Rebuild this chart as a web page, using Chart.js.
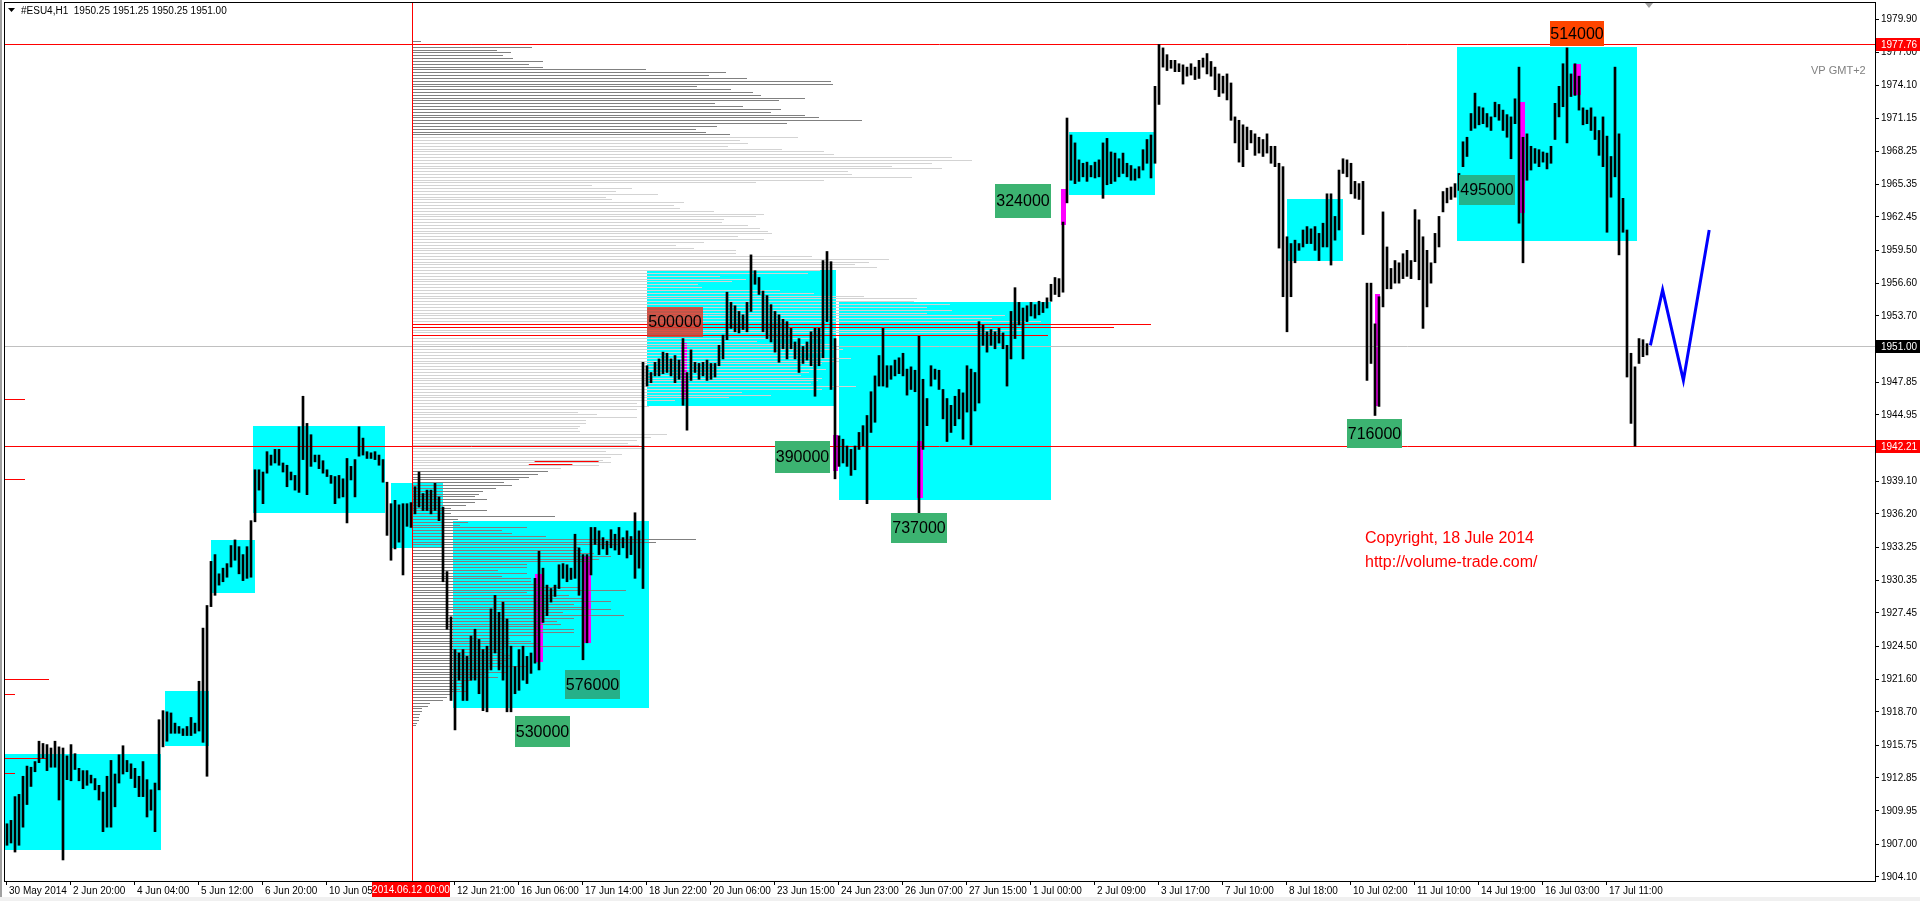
<!DOCTYPE html>
<html>
<head>
<meta charset="utf-8">
<script src="https://cdn.jsdelivr.net/npm/chart.js@4.4.1/dist/chart.umd.min.js"></script>
<style>
  html, body { margin: 0; padding: 0; background: #fff; }
  canvas { display: block; }
</style>
</head>
<body>
<canvas id="chart" width="1920" height="901"></canvas>
<script>
// #ESU4 H1, bars taken two hours at a time; x = hour count from 30 May 2014
const barHighs = [
  1908.8,1909.1,1911.2,1911.4,1913.0,1913.9,1913.8,1914.3,1916.1,1915.9,1915.8,1915.5,1916.1,1915.6,1915.5,1914.8,
  1915.8,1915.0,1913.7,1913.5,1913.5,1913.1,1912.8,1912.2,1911.6,1913.0,1914.4,1913.2,1914.9,1915.7,1914.4,1914.1,
  1913.7,1913.0,1914.3,1912.7,1911.8,1912.4,1918.0,1918.8,1918.7,1918.6,1917.7,1917.4,1917.2,1917.4,1918.2,1917.7,
  1921.4,1926.1,1928.1,1932.0,1932.6,1930.9,1931.4,1931.8,1933.4,1933.9,1933.3,1932.6,1933.3,1935.6,1940.1,1940.1,
  1939.9,1941.7,1941.4,1941.9,1941.9,1940.7,1940.5,1939.9,1939.6,1943.9,1946.6,1944.2,1943.2,1941.4,1941.4,1940.9,
  1940.1,1939.6,1939.5,1939.6,1939.3,1941.1,1940.4,1941.0,1943.9,1942.9,1941.7,1941.6,1941.7,1941.4,1941.0,1939.0,
  1937.1,1937.4,1937.0,1937.1,1937.1,1937.2,1938.6,1939.9,1938.0,1938.3,1938.3,1938.9,1937.7,1936.8,1931.1,1927.1,
  1924.2,1923.9,1924.2,1923.6,1925.4,1926.0,1925.1,1924.2,1924.5,1927.8,1929.0,1927.5,1928.4,1926.9,1924.5,1922.7,
  1924.2,1924.5,1923.6,1923.9,1930.5,1932.9,1931.4,1929.9,1929.6,1929.9,1931.7,1931.8,1931.7,1931.4,1934.4,1933.2,
  1932.6,1932.6,1935.0,1935.0,1934.7,1934.1,1933.8,1934.8,1934.4,1935.0,1934.1,1934.7,1934.2,1936.3,1934.7,1949.6,
  1949.3,1948.7,1949.6,1949.9,1950.5,1950.4,1949.9,1950.2,1949.8,1951.7,1948.7,1950.7,1949.6,1949.5,1949.6,1949.8,
  1949.5,1949.5,1951.1,1952.0,1955.8,1954.9,1954.6,1954.1,1953.8,1954.9,1959.1,1957.7,1957.1,1955.9,1955.5,1954.7,
  1954.1,1953.8,1953.4,1953.2,1952.6,1951.4,1951.7,1951.0,1951.4,1952.3,1952.6,1952.6,1958.6,1959.4,1958.5,1951.7,
  1943.1,1942.8,1942.2,1941.9,1942.2,1943.4,1944.0,1944.9,1947.0,1948.4,1950.2,1952.6,1949.3,1949.3,1949.8,1950.0,
  1950.4,1949.0,1949.2,1948.9,1951.9,1948.1,1946.4,1949.3,1949.0,1948.9,1947.2,1946.4,1945.8,1946.6,1947.2,1946.9,
  1949.3,1949.0,1948.7,1953.2,1952.9,1952.3,1952.5,1952.3,1952.6,1952.2,1951.1,1954.1,1956.2,1954.9,1954.4,1954.6,
  1954.9,1954.7,1955.0,1954.9,1955.3,1956.5,1957.1,1957.0,1962.0,1971.2,1969.7,1969.0,1967.5,1967.2,1967.3,1967.0,
  1967.3,1967.5,1969.0,1969.4,1968.2,1968.1,1967.6,1968.1,1967.2,1967.0,1966.7,1966.9,1968.4,1969.3,1969.7,1974.0,
  1977.7,1977.4,1976.8,1976.3,1976.3,1976.0,1975.9,1975.7,1976.0,1975.7,1976.3,1976.5,1976.9,1976.2,1975.7,1975.1,
  1974.9,1975.1,1974.3,1971.3,1971.0,1970.6,1970.4,1970.1,1969.8,1969.5,1969.3,1969.8,1968.7,1968.7,1967.2,1966.9,
  1960.7,1960.1,1960.4,1960.1,1961.3,1961.6,1961.4,1961.6,1961.0,1961.9,1964.5,1964.5,1962.5,1966.6,1967.6,1967.5,
  1967.2,1965.6,1965.4,1965.6,1956.6,1956.6,1953.0,1955.4,1962.9,1959.8,1957.9,1958.6,1958.4,1959.2,1959.5,1958.6,
  1963.1,1962.2,1960.7,1959.5,1958.4,1961.0,1962.5,1964.7,1965.0,1965.1,1965.4,1966.3,1969.1,1969.5,1971.6,1973.4,
  1972.2,1972.1,1971.6,1971.3,1972.6,1972.4,1971.9,1971.5,1971.3,1972.9,1975.7,1969.5,1969.8,1968.7,1968.5,1968.4,
  1968.2,1968.1,1968.7,1972.5,1974.0,1976.0,1977.4,1975.1,1976.0,1974.9,1972.1,1971.9,1972.1,1971.3,1970.1,1971.3,
  1969.6,1967.8,1975.7,1969.8,1964.1,1961.3,1950.4,1949.2,1951.7,1951.6,1951.25
];
const barLows = [
  1906.9,1907.1,1906.3,1906.9,1908.5,1910.5,1912.1,1913.4,1914.2,1914.6,1913.5,1913.8,1913.8,1910.9,1905.6,1912.7,
  1912.6,1913.6,1912.6,1911.9,1912.2,1912.4,1911.8,1910.9,1908.1,1908.5,1908.5,1910.3,1912.4,1913.2,1913.4,1912.8,
  1912.0,1911.2,1911.2,1909.4,1910.0,1908.1,1911.8,1915.6,1916.1,1916.8,1916.8,1916.8,1916.6,1916.6,1916.6,1916.8,
  1917.0,1916.0,1913.0,1928.0,1929.0,1929.9,1930.2,1930.6,1931.5,1932.1,1930.9,1930.3,1930.5,1930.6,1935.5,1938.3,
  1937.1,1939.8,1940.5,1940.7,1940.5,1939.9,1938.6,1939.2,1938.3,1938.1,1941.0,1937.9,1940.4,1940.8,1940.2,1939.8,
  1939.5,1938.9,1937.1,1937.6,1937.7,1935.4,1939.2,1937.7,1941.3,1941.4,1941.1,1941.1,1941.0,1940.5,1939.0,1934.3,
  1932.1,1933.1,1933.7,1930.8,1935.1,1935.0,1936.2,1936.8,1936.5,1936.5,1936.2,1936.5,1935.6,1930.2,1926.0,1919.7,
  1917.1,1921.5,1919.7,1919.7,1921.5,1921.5,1920.3,1918.8,1918.7,1922.4,1923.9,1922.4,1921.5,1918.7,1918.7,1920.3,
  1920.6,1921.5,1921.2,1922.1,1923.0,1922.4,1926.6,1927.2,1928.4,1928.9,1929.6,1930.5,1930.2,1930.4,1930.5,1929.0,
  1923.3,1924.8,1930.8,1933.5,1932.6,1933.1,1932.6,1933.2,1933.0,1932.6,1933.2,1932.3,1932.6,1930.5,1931.4,1929.6,
  1947.5,1947.8,1948.4,1948.4,1948.6,1948.7,1948.4,1947.8,1948.1,1945.8,1943.6,1948.0,1948.7,1948.1,1948.4,1948.0,
  1948.1,1948.3,1949.3,1949.9,1951.6,1952.6,1952.3,1952.2,1952.5,1952.3,1954.1,1956.5,1955.6,1952.3,1951.7,1951.4,
  1950.5,1949.6,1950.8,1949.9,1950.8,1949.9,1948.7,1949.5,1949.8,1949.3,1946.6,1949.3,1950.0,1953.2,1947.2,1939.3,
  1940.4,1940.7,1940.4,1939.6,1940.1,1941.9,1942.2,1937.1,1943.4,1944.3,1947.5,1947.5,1947.4,1948.1,1948.4,1948.6,
  1948.4,1946.7,1947.2,1947.0,1936.2,1941.9,1944.0,1947.5,1948.1,1947.2,1944.6,1942.6,1943.4,1944.0,1944.6,1942.8,
  1945.2,1942.3,1945.3,1946.0,1951.1,1950.5,1951.1,1950.8,1951.3,1950.8,1947.5,1949.9,1951.7,1952.9,1949.9,1953.2,
  1953.7,1953.5,1953.8,1954.0,1954.4,1955.0,1955.6,1955.4,1955.8,1963.7,1965.7,1965.4,1965.6,1966.0,1965.6,1966.0,
  1965.9,1966.0,1964.1,1965.3,1965.4,1965.6,1966.0,1966.3,1966.0,1965.7,1965.7,1965.9,1966.6,1967.2,1965.9,1967.2,
  1972.4,1975.7,1975.4,1975.6,1975.3,1975.3,1974.2,1974.9,1975.0,1974.6,1974.7,1975.7,1975.1,1974.9,1973.7,1973.1,
  1973.4,1972.8,1971.0,1969.0,1967.3,1966.9,1968.4,1969.0,1967.9,1968.1,1967.8,1968.1,1967.2,1966.9,1959.7,1955.4,
  1952.3,1955.4,1958.4,1959.5,1959.8,1960.1,1960.1,1959.5,1958.6,1959.8,1959.8,1958.2,1960.4,1961.3,1966.3,1966.0,
  1964.5,1964.1,1964.0,1960.9,1948.0,1949.5,1944.9,1945.7,1954.5,1956.1,1956.1,1956.6,1956.6,1957.0,1957.2,1957.0,
  1958.5,1956.9,1952.6,1954.5,1956.6,1958.4,1959.8,1962.9,1963.7,1964.0,1964.2,1964.8,1966.9,1967.8,1970.1,1970.3,
  1970.6,1970.7,1970.4,1970.1,1971.3,1971.0,1970.1,1969.5,1967.6,1970.7,1961.9,1958.4,1965.7,1966.6,1967.2,1966.9,
  1967.3,1966.7,1967.2,1969.3,1971.3,1972.2,1969.0,1973.1,1973.2,1971.9,1970.6,1970.7,1970.1,1969.3,1967.9,1966.9,
  1961.1,1964.2,1966.0,1959.1,1961.1,1948.3,1944.2,1942.2,1949.5,1950.1,1950.25
];
const barHours = barHighs.map((_, i) => 2 * i + 0.5);

// tick labels
const xTickHours = [0,32,64,96,128,160,192,224,256,288,320,352,384,416,448,480,512,544,576,608,640,672,704,736,768,800];
const xTickLabels = ['30 May 2014','2 Jun 20:00','4 Jun 04:00','5 Jun 12:00','6 Jun 20:00','10 Jun 05:00','11 Jun 13:00',
  '12 Jun 21:00','16 Jun 06:00','17 Jun 14:00','18 Jun 22:00','20 Jun 06:00','23 Jun 15:00','24 Jun 23:00','26 Jun 07:00',
  '27 Jun 15:00','1 Jul 00:00','2 Jul 09:00','3 Jul 17:00','7 Jul 10:00','8 Jul 18:00','10 Jul 02:00','11 Jul 10:00',
  '14 Jul 19:00','16 Jul 03:00','17 Jul 11:00'];
const yTickValues = [1979.90,1977.00,1974.10,1971.15,1968.25,1965.35,1962.45,1959.50,1956.60,1953.70,1950.80,1947.85,
  1944.95,1942.00,1939.10,1936.20,1933.25,1930.35,1927.45,1924.50,1921.60,1918.70,1915.75,1912.85,1909.95,1907.00,1904.10];

// cyan zones
const boxFrom = [-0.7, 79.5, 102.5, 123.6, 192.5, 223.5, 320.5, 416.4, 531.6, 640.4, 725.5];
const boxTo   = [77.5, 101.6, 124.5, 189.5, 218.5, 321.5, 415.2, 522.5, 574.3, 668.4, 815.5];
const boxHigh = [1915.0, 1920.5, 1933.9, 1944.0, 1938.9, 1935.6, 1957.8, 1954.9, 1969.96, 1964.0, 1977.45];
const boxLow  = [1906.5, 1915.7, 1929.2, 1936.3, 1933.2, 1919.0, 1945.7, 1937.4, 1964.4, 1958.6, 1960.35];

// magenta volume bars
const magFrom = [264.7, 288.7, 337.5, 413.7, 455.4, 527.4, 684.5, 756.8, 783.3];
const magTo   = [268.5, 292.5, 340.5, 416.2, 458.5, 530.0, 687.2, 759.4, 787.4];
const magHigh = [1930.9, 1932.5, 1951.3, 1943.2, 1942.6, 1964.9, 1955.6, 1972.6, 1976.0];
const magLow  = [1923.1, 1924.8, 1946.4, 1940.0, 1937.6, 1961.7, 1945.7, 1962.8, 1973.2];

// volume labels
const volText   = ['530000','576000','390000','737000','500000','324000','716000','495000','514000'];
const volFrom   = [254.4, 279.4, 384.5, 442.3, 320.5, 494.7, 670.4, 726.5, 772.0];
const volTo     = [282.2, 307.2, 412.2, 470.5, 348.5, 522.3, 698.2, 754.3, 799.0];
const volTop    = [1918.3, 1922.4, 1942.6, 1936.3, 1954.5, 1965.4, 1944.6, 1966.2, 1979.8];
const volBottom = [1915.6, 1919.8, 1939.8, 1933.6, 1951.8, 1962.4, 1942.0, 1963.5, 1977.6];
const volColor  = ['#3CB371','#26B089','#3CB371','#3CB371','rgba(222,58,44,0.85)','#3CB371','#3CB371','#24B38A','#FF4500'];

// volume profile from 12 Jun 00:00, 0.25 per level from the top
const profileStart = 203;
const profileTop = 1978.0;
const profileStep = 0.25;
const profileVolumes = [
  9,100,120,85,99,91,101,131,117,131,234,314,297,335,419,421,285,319,341,349,393,367,303,331,369,359,393,407,450,375,305,284,294,318,
  386,328,336,316,370,412,422,540,560,520,480,530,436,440,500,412,344,180,220,204,246,194,200,272,262,268,302,352,344,312,310,336,348,356,360,326,352,292,264,282,324,324,
  400,477,457,443,465,408,396,308,334,320,286,290,368,402,452,505,502,538,515,540,515,593,580,629,739,702,610,590,636,410,345,420,410,431,410,389,439,427,410,401,414,397,389,410,406,399,444,410,330,359,317,263,225,237,225,166,185,225,174,174,168,166,168,255,239,225,216,227,233,194,210,199,191,199,187,149,
  136,126,117,107,92,100,84,71,67,63,75,63,54,39,75,39,143,46,56,48,115,90,100,134,284,244,208,166,170,182,199,187,178,115,115,86,115,90,119,119,128,166,214,115,157,170,199,162,174,199,151,212,162,145,149,128,162,162,128,98,119,128,168,90,90,98,98,94,90,115,77,94,73,86,60,52,52,48,56,39,35,31,18,16,10,10,8,7,7,5,4
];
const profileHoursPerUnit = 0.5;
const valueAreaHigh = 1969.5, valueAreaLow = 1940.25;
const pocLevels = [1953.0, 1952.75, 1952.0];

// short red POC segments of older profiles
const pocSegPrice = [1946.4, 1939.3, 1921.6, 1920.3, 1914.6, 1913.3, 1940.85, 1940.6];
const pocSegFrom  = [-1, -1, -1, -1, -1, -1, 264.3, 261.4];
const pocSegTo    = [9.5, 9.5, 21.5, 4.5, 20.5, 4.5, 296.3, 283.2];

// horizontal levels, current price, vertical line
const redLevels = [1977.76, 1942.21];
const lastPrice = 1951.00;
const markHour = 203;
const markLabel = '2014.06.12 00:00';

// forecast zigzag
const forecastHours  = [822.2, 828.3, 838.7, 851.6];
const forecastPrices = [1951.1, 1956.0, 1948.0, 1961.3];

const FONT = '"Liberation Sans", Arial, sans-serif';

const overlay = {
  id: 'overlay',
  beforeDatasetsDraw(chart) {
    const { ctx, chartArea: a, scales: { x, y } } = chart;
    const px = v => x.getPixelForValue(v);
    const py = v => y.getPixelForValue(v);
    ctx.save();
    ctx.beginPath();
    ctx.rect(a.left, a.top, a.right - a.left, a.bottom - a.top);
    ctx.clip();

    ctx.fillStyle = '#00FFFF';
    boxFrom.forEach((h, i) => {
      const x0 = Math.round(px(h)), x1 = Math.round(px(boxTo[i]));
      const y0 = Math.round(py(boxHigh[i])), y1 = Math.round(py(boxLow[i]));
      ctx.fillRect(x0, y0, x1 - x0, y1 - y0);
    });

    ctx.fillStyle = '#FF00FF';
    magFrom.forEach((h, i) => {
      const x0 = Math.round(px(h)), x1 = Math.round(px(magTo[i]));
      const y0 = Math.round(py(magHigh[i])), y1 = Math.round(py(magLow[i]));
      ctx.fillRect(x0, y0, x1 - x0, y1 - y0);
    });

    // profile lines
    ctx.lineWidth = 1;
    const left = px(profileStart);
    profileVolumes.forEach((v, k) => {
      const p = profileTop - k * profileStep;
      const yy = Math.round(py(p)) + 0.5;
      let col = '#808080';
      if (p <= valueAreaHigh && p >= valueAreaLow) col = '#D3D3D3';
      if (pocLevels.includes(p)) col = '#FF0000';
      ctx.strokeStyle = col;
      ctx.beginPath();
      ctx.moveTo(left, yy);
      ctx.lineTo(Math.round(px(profileStart + v * profileHoursPerUnit)), yy);
      ctx.stroke();
    });

    ctx.strokeStyle = '#FF0000';
    pocSegPrice.forEach((p, i) => {
      const yy = Math.round(py(p)) + 0.5;
      ctx.beginPath();
      ctx.moveTo(px(pocSegFrom[i]), yy);
      ctx.lineTo(px(pocSegTo[i]), yy);
      ctx.stroke();
    });

    // current price line
    ctx.strokeStyle = '#C0C0C0';
    const yl0 = Math.round(py(lastPrice)) + 0.5;
    ctx.beginPath(); ctx.moveTo(a.left, yl0); ctx.lineTo(a.right, yl0); ctx.stroke();

    ctx.strokeStyle = '#FF0000';
    redLevels.forEach(p => {
      const yl = Math.round(py(p)) + 0.5;
      ctx.beginPath(); ctx.moveTo(a.left, yl); ctx.lineTo(a.right, yl); ctx.stroke();
    });
    const xm = Math.round(px(markHour)) + 0.5;
    ctx.beginPath(); ctx.moveTo(xm, a.top); ctx.lineTo(xm, a.bottom); ctx.stroke();
    ctx.restore();
  },
  afterDatasetsDraw(chart) {
    const { ctx, chartArea: a, scales: { x, y } } = chart;
    const px = v => x.getPixelForValue(v);
    const py = v => y.getPixelForValue(v);
    ctx.save();
    ctx.beginPath();
    ctx.rect(a.left, a.top, a.right - a.left, a.bottom - a.top);
    ctx.clip();

    ctx.font = '16px ' + FONT;
    ctx.textAlign = 'center';
    ctx.textBaseline = 'middle';
    volText.forEach((t, i) => {
      const x0 = Math.round(px(volFrom[i])), x1 = Math.round(px(volTo[i]));
      const y0 = Math.round(py(volTop[i])), y1 = Math.round(py(volBottom[i]));
      ctx.fillStyle = volColor[i];
      ctx.fillRect(x0, y0, x1 - x0, y1 - y0);
      ctx.fillStyle = '#000';
      ctx.fillText(t, (x0 + x1) / 2, (y0 + y1) / 2 + 1);
    });

    ctx.textAlign = 'left';
    ctx.fillStyle = '#FF0000';
    ctx.fillText('Copyright, 18 Jule 2014', 1365, 539);
    ctx.fillText('http://volume-trade.com/', 1365, 563);

    ctx.font = '11px ' + FONT;
    ctx.fillStyle = '#808080';
    ctx.fillText('VP GMT+2', 1811, 71);

    // header
    ctx.fillStyle = '#000';
    ctx.beginPath();
    ctx.moveTo(8, 8); ctx.lineTo(15, 8); ctx.lineTo(11.5, 12); ctx.closePath(); ctx.fill();
    ctx.font = '10px ' + FONT;
    ctx.fillText('#ESU4,H1  1950.25 1951.25 1950.25 1951.00', 21, 11);

    // chart shift marker
    ctx.fillStyle = '#A0A0A0';
    ctx.beginPath();
    ctx.moveTo(1645, 3); ctx.lineTo(1653, 3); ctx.lineTo(1649, 8); ctx.closePath(); ctx.fill();
    ctx.restore();
  },
  afterDraw(chart) {
    const { ctx, chartArea: a, scales: { x, y } } = chart;
    const px = v => x.getPixelForValue(v);
    const py = v => y.getPixelForValue(v);
    ctx.save();
    // window edges
    ctx.fillStyle = '#A0A0A0';
    ctx.fillRect(0, 0, 2, 901);
    ctx.fillStyle = '#F0F0F0';
    ctx.fillRect(0, 897, 1920, 4);
    // frame
    ctx.strokeStyle = '#000';
    ctx.lineWidth = 1;
    ctx.strokeRect(a.left + 0.5, a.top - 0.5, a.right - a.left, a.bottom - a.top + 1);

    ctx.font = '10px ' + FONT;
    ctx.textBaseline = 'middle';
    ctx.textAlign = 'left';
    const tag = (p, bg) => {
      const yc = Math.round(py(p));
      ctx.fillStyle = bg;
      ctx.fillRect(a.right + 1, yc - 6, 45, 13);
      ctx.fillStyle = '#FFF';
      ctx.fillText(p.toFixed(2), a.right + 6, yc + 1);
    };
    tag(lastPrice, '#000');
    redLevels.forEach(p => tag(p, '#FF0000'));

    const xm = Math.round(px(markHour));
    ctx.fillStyle = '#FF0000';
    ctx.fillRect(xm - 40, a.bottom + 1, 78, 15);
    ctx.fillStyle = '#FFF';
    ctx.textAlign = 'center';
    ctx.fillText(markLabel, xm - 1, a.bottom + 9);
    ctx.restore();
  }
};

new Chart(document.getElementById('chart'), {
  type: 'bar',
  data: {
    datasets: [
      {
        type: 'line',
        data: forecastHours.map((h, i) => ({ x: h, y: forecastPrices[i] })),
        borderColor: '#0000FF',
        borderWidth: 3,
        pointRadius: 0,
        fill: false,
        tension: 0
      },
      {
        type: 'bar',
        data: barHighs.map((hi, i) => ({ x: barHours[i], y: [barLows[i], hi] })),
        backgroundColor: '#000000',
        borderWidth: 0,
        barThickness: 2,
        grouped: false
      }
    ]
  },
  options: {
    responsive: false,
    devicePixelRatio: 1,
    animation: false,
    events: [],
    layout: { padding: { left: 4, top: 3, right: 0, bottom: 0 } },
    plugins: { legend: { display: false }, tooltip: { enabled: false } },
    scales: {
      x: {
        type: 'linear',
        position: 'bottom',
        offset: false,
        min: -1,
        max: 934.5,
        afterBuildTicks: s => { s.ticks = xTickHours.map(v => ({ value: v })); },
        afterFit: s => { s.height = 20; s.paddingLeft = 0; s.paddingRight = 0; },
        ticks: {
          autoSkip: false,
          maxRotation: 0,
          align: 'start',
          labelOffset: 3,
          padding: 0,
          color: '#000',
          font: { family: FONT, size: 10 },
          callback: (v, i) => xTickLabels[i]
        },
        grid: { drawOnChartArea: false, drawTicks: true, tickLength: 4, color: '#000', offset: false },
        border: { display: false }
      },
      y: {
        type: 'linear',
        position: 'right',
        min: 1903.74,
        max: 1981.37,
        afterBuildTicks: s => { s.ticks = yTickValues.map(v => ({ value: v })); },
        afterFit: s => { s.width = 45; s.paddingTop = 0; s.paddingBottom = 0; },
        ticks: {
          autoSkip: false,
          padding: 2,
          color: '#000',
          font: { family: FONT, size: 10 },
          callback: v => v.toFixed(2)
        },
        grid: { drawOnChartArea: false, drawTicks: true, tickLength: 4, color: '#000' },
        border: { display: false }
      }
    }
  },
  plugins: [overlay]
});
</script>
</body>
</html>
